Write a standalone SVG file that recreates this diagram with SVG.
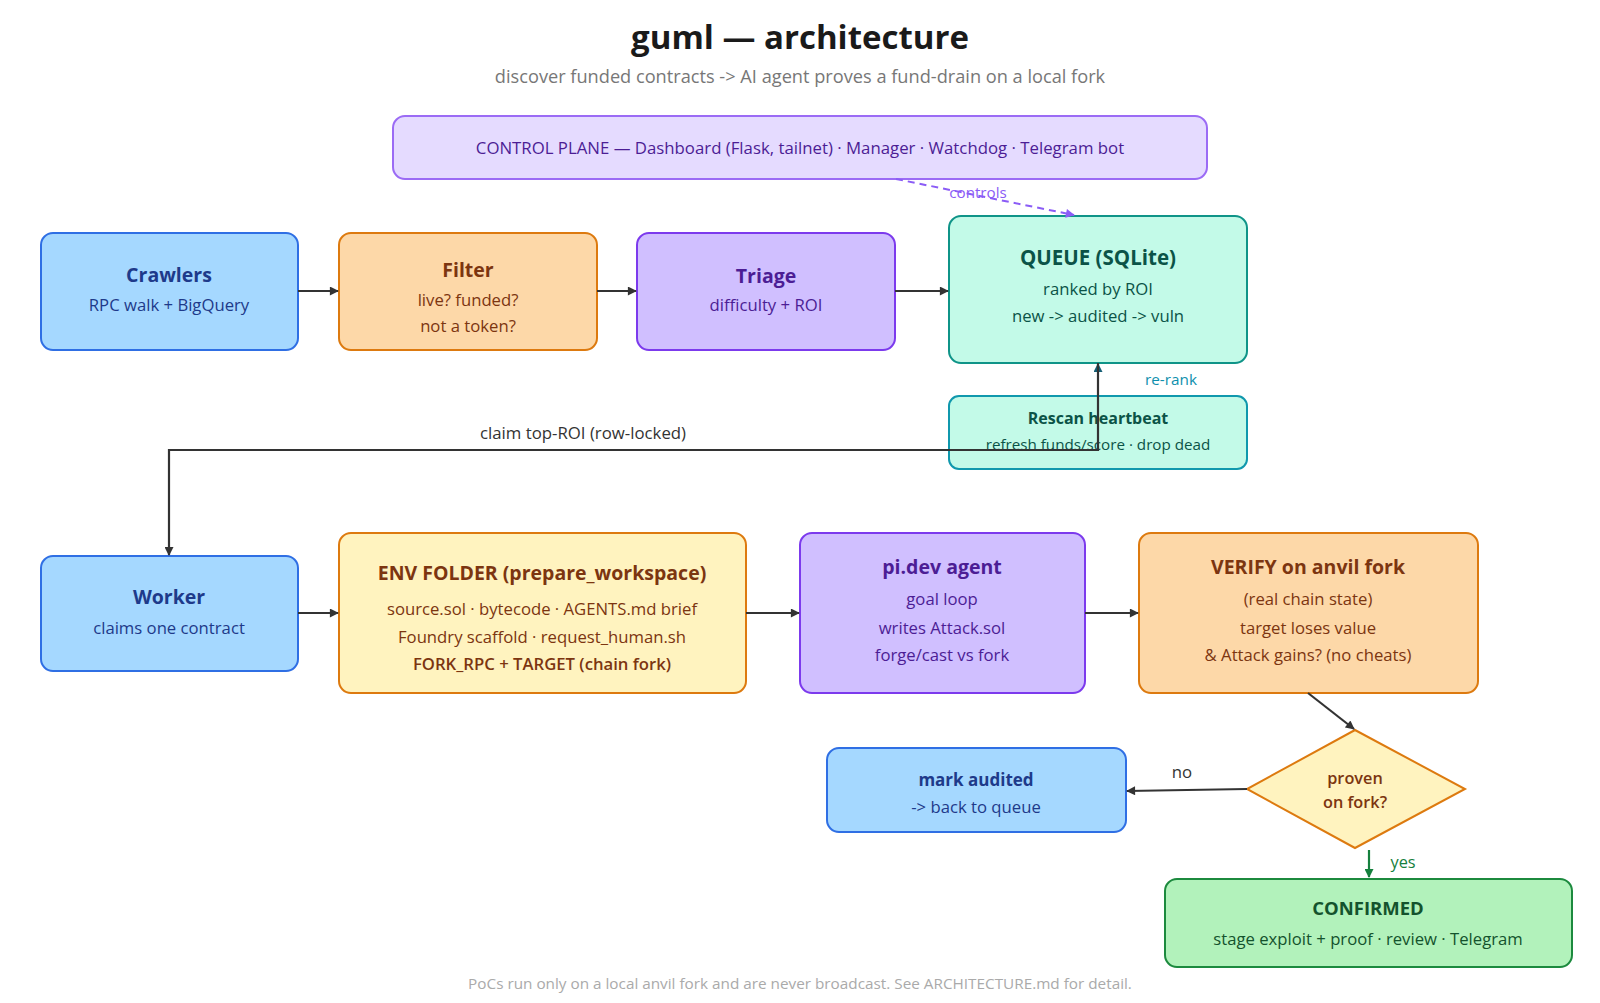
<svg xmlns="http://www.w3.org/2000/svg" width="1600" height="1003" viewBox="0 0 1600 1003">
<defs>
<marker id="ah" viewBox="0 0 10 10" refX="9" refY="5" markerWidth="10" markerHeight="9" markerUnits="userSpaceOnUse" orient="auto"><path d="M0,0 L10,5 L0,10 z" fill="#333"/></marker>
<marker id="ahp" viewBox="0 0 10 10" refX="9" refY="5" markerWidth="10" markerHeight="9" markerUnits="userSpaceOnUse" orient="auto"><path d="M0,0 L10,5 L0,10 z" fill="#8b5cf6"/></marker>
<marker id="aht" viewBox="0 0 10 10" refX="9" refY="5" markerWidth="10" markerHeight="9" markerUnits="userSpaceOnUse" orient="auto"><path d="M0,0 L10,5 L0,10 z" fill="#155e75"/></marker>
<marker id="ahg" viewBox="0 0 10 10" refX="9" refY="5" markerWidth="10" markerHeight="9" markerUnits="userSpaceOnUse" orient="auto"><path d="M0,0 L10,5 L0,10 z" fill="#15803d"/></marker>
<style>
text{font-family:"Open Sans","Noto Sans","Liberation Sans",sans-serif;text-anchor:middle}
.t{font-size:19.5px;font-weight:700}
.s{font-size:16.7px}
.blue rect{fill:#a5d8ff;stroke:#2f6fe4;stroke-width:2}
.blue text{fill:#1e3a8a}
.peach rect{fill:#fdd8a8;stroke:#dd7a0f;stroke-width:2}
.peach text,.yel text{fill:#7c3510}
.yel rect,.yel polygon{fill:#fff3bf;stroke:#dd7a0f;stroke-width:2}
.lav rect{fill:#d0bfff;stroke:#7c3aed;stroke-width:2}
.lav text{fill:#4c1d95}
.mint rect{fill:#c3fae8;stroke:#0f9488;stroke-width:2}
.mint text{fill:#0b5347}
.green rect{fill:#b2f2bb;stroke:#1c8a3e;stroke-width:2}
.green text{fill:#14532d}
.ln{fill:none;stroke:#333;stroke-width:2.2}
.lbl{font-size:16.8px;fill:#333}
</style>
</defs>
<rect width="1600" height="1003" fill="#fff"/>
<text x="800" y="49" style="font-size:33px;font-weight:700;fill:#1a1a1a">guml — architecture</text>
<text x="800" y="83" style="font-size:18.2px;fill:#777">discover funded contracts -&gt; AI agent proves a fund-drain on a local fork</text>

<g id="control-plane">
<rect x="393" y="116" width="814" height="63" rx="12" fill="#e5dbff" stroke="#9b6bf5" stroke-width="2"/>
<text x="800" y="154" style="font-size:16.8px;fill:#4c1d95">CONTROL PLANE — Dashboard (Flask, tailnet) · Manager · Watchdog · Telegram bot</text>
</g>

<g id="crawlers" class="blue">
<rect x="41" y="233" width="257" height="117" rx="12"/>
<text class="t" x="169" y="282">Crawlers</text>
<text class="s" x="169" y="311">RPC walk + BigQuery</text>
</g>
<g id="filter" class="peach">
<rect x="339" y="233" width="258" height="117" rx="12"/>
<text class="t" x="468" y="277">Filter</text>
<text class="s" x="468" y="306">live? funded?</text>
<text class="s" x="468" y="332">not a token?</text>
</g>
<g id="triage" class="lav">
<rect x="637" y="233" width="258" height="117" rx="12"/>
<text class="t" x="766" y="283">Triage</text>
<text class="s" x="766" y="311">difficulty + ROI</text>
</g>
<g id="queue" class="mint">
<rect x="949" y="216" width="298" height="147" rx="12"/>
<text class="t" x="1098" y="265" style="font-size:20.5px">QUEUE (SQLite)</text>
<text class="s" x="1098" y="295">ranked by ROI</text>
<text class="s" x="1098" y="322">new -&gt; audited -&gt; vuln</text>
</g>
<g id="rescan" class="mint">
<rect x="949" y="396" width="298" height="73" rx="10" style="stroke:#1098ad"/>
<text x="1098" y="424" style="font-size:16px;font-weight:700">Rescan heartbeat</text>
<text x="1098" y="450" style="font-size:15.2px">refresh funds/score · drop dead</text>
</g>

<g id="worker" class="blue">
<rect x="41" y="556" width="257" height="115" rx="12"/>
<text class="t" x="169" y="604">Worker</text>
<text class="s" x="169" y="634">claims one contract</text>
</g>
<g id="env-folder" class="yel">
<rect x="339" y="533" width="407" height="160" rx="12"/>
<text class="t" x="542" y="580">ENV FOLDER (prepare_workspace)</text>
<text class="s" x="542" y="615">source.sol · bytecode · AGENTS.md brief</text>
<text class="s" x="542" y="643">Foundry scaffold · request_human.sh</text>
<text class="s" x="542" y="670" style="font-weight:600">FORK_RPC + TARGET (chain fork)</text>
</g>
<g id="agent" class="lav">
<rect x="800" y="533" width="285" height="160" rx="12"/>
<text class="t" x="942" y="574">pi.dev agent</text>
<text class="s" x="942" y="605">goal loop</text>
<text class="s" x="942" y="634">writes Attack.sol</text>
<text class="s" x="942" y="661">forge/cast vs fork</text>
</g>
<g id="verify" class="peach">
<rect x="1139" y="533" width="339" height="160" rx="12"/>
<text class="t" x="1308" y="574">VERIFY on anvil fork</text>
<text class="s" x="1308" y="605">(real chain state)</text>
<text class="s" x="1308" y="634">target loses value</text>
<text class="s" x="1308" y="661">&amp; Attack gains? (no cheats)</text>
</g>
<g id="decision" class="yel">
<polygon points="1355,730 1465,789 1355,848 1247,789"/>
<text x="1355" y="784" style="font-size:16.3px;font-weight:600">proven</text>
<text x="1355" y="808" style="font-size:16.3px;font-weight:600">on fork?</text>
</g>
<g id="mark-audited" class="blue">
<rect x="827" y="748" width="299" height="84" rx="12"/>
<text x="976" y="786" style="font-size:17px;font-weight:700">mark audited</text>
<text class="s" x="976" y="813">-&gt; back to queue</text>
</g>
<g id="confirmed" class="green">
<rect x="1165" y="879" width="407" height="88" rx="12"/>
<text x="1368" y="915" style="font-size:18.5px;font-weight:700">CONFIRMED</text>
<text class="s" x="1368" y="945">stage exploit + proof · review · Telegram</text>
</g>

<g id="connectors">
<path d="M896,179 L1074,215" fill="none" stroke="#8b5cf6" stroke-width="2" stroke-dasharray="7,5" marker-end="url(#ahp)"/>
<text x="978" y="198" style="font-size:15.2px;fill:#8b5cf6">controls</text>
<path class="ln" d="M298,291 L338,291" marker-end="url(#ah)"/>
<path class="ln" d="M597,291 L636,291" marker-end="url(#ah)"/>
<path class="ln" d="M895,291 L948,291" marker-end="url(#ah)"/>
<path d="M1098,396 L1098,364" fill="none" stroke="#155e75" stroke-width="2" marker-end="url(#aht)"/>
<text x="1171" y="385" style="font-size:15.3px;fill:#0e8fad">re-rank</text>
<path class="ln" d="M1098,363 L1098,450 L169,450 L169,555" marker-end="url(#ah)"/>
<text class="lbl" x="583" y="439">claim top-ROI (row-locked)</text>
<path class="ln" d="M298,613 L338,613" marker-end="url(#ah)"/>
<path class="ln" d="M746,613 L799,613" marker-end="url(#ah)"/>
<path class="ln" d="M1085,613 L1138,613" marker-end="url(#ah)"/>
<path class="ln" d="M1308,693 L1354,729" marker-end="url(#ah)"/>
<path class="ln" d="M1247,789 L1127,791" marker-end="url(#ah)"/>
<text class="lbl" x="1182" y="778">no</text>
<path d="M1369,850 L1369,877" fill="none" stroke="#15803d" stroke-width="2.2" marker-end="url(#ahg)"/>
<text x="1403" y="868" style="font-size:16.3px;fill:#15803d">yes</text>
</g>
<text x="800" y="989" style="font-size:15.3px;fill:#aaa">PoCs run only on a local anvil fork and are never broadcast. See ARCHITECTURE.md for detail.</text>
</svg>
